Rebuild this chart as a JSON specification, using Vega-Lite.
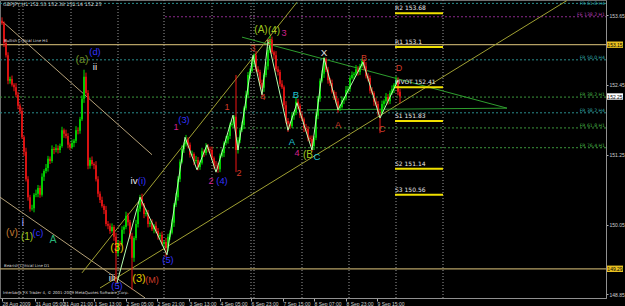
{
"$schema":"https://vega.github.io/schema/vega-lite/v6.json",
"width":606,"height":298,
"autosize":"none",
"padding":{"left":0,"top":0,"right":19,"bottom":8},
"background":"#000000",
"config":{"view":{"stroke":"#707070","strokeWidth":1}},
"resolve":{"scale":{"color":"independent","size":"independent","strokeWidth":"independent"}},
"datasets":{
"vgrid":[{"i":9.5},{"i":11.5},{"i":35.5},{"i":59},{"i":82},{"i":106},{"i":125.5},{"i":127},{"i":151},{"i":174.5},{"i":198},{"i":221.5}],
"levels":[
{"kind":"frh4","p":153.85,"x1":0,"x2":303,"t":"FR 61.8 H4"},
{"kind":"fe","p":153.62,"x1":82.5,"x2":303,"t":"FE 138.2 H1"},
{"kind":"frh4","p":152.88,"x1":0,"x2":303,"t":"FR 50.0 H4"},
{"kind":"frh1","p":152.24,"x1":0,"x2":303,"t":"FR 38.2 H1"},
{"kind":"frh4","p":151.97,"x1":0,"x2":303,"t":"FR 38.2 H4"},
{"kind":"frh1","p":151.71,"x1":106,"x2":303,"t":"FR 61.8 H1"},
{"kind":"frh1","p":151.37,"x1":106,"x2":303,"t":"FR 76.4 H1"},
{"kind":"crit","p":153.14,"x1":0,"x2":303,"t":""},
{"kind":"crit","p":149.29,"x1":0,"x2":303,"t":""}
],
"trend":[
{"kind":"tan","x1":1.5,"p1":153.53,"x2":76,"p2":151.25},
{"kind":"tan","x1":0,"p1":150.52,"x2":72.5,"p2":148.79},
{"kind":"olive","x1":41,"p1":149.22,"x2":148.5,"p2":153.87},
{"kind":"olive","x1":50,"p1":148.96,"x2":283.5,"p2":153.9},
{"kind":"green","x1":121,"p1":153.27,"x2":253.5,"p2":152.05},
{"kind":"green","x1":153.5,"p1":152.02,"x2":253.5,"p2":152.05}
],
"zigzag":[
{"n":1,"i":58.5,"p":149.05},{"n":2,"i":70,"p":150.52},{"n":3,"i":83.5,"p":149.53},{"n":4,"i":92.5,"p":151.55},{"n":5,"i":98.5,"p":150.99},{"n":6,"i":103.5,"p":151.42},{"n":7,"i":108,"p":150.95},{"n":8,"i":116.5,"p":151.93},{"n":9,"i":119,"p":151.33},{"n":10,"i":126.5,"p":152.96},{"n":11,"i":131,"p":152.28},{"n":12,"i":134,"p":153.22},{"n":13,"i":144,"p":151.67},{"n":14,"i":148.5,"p":152.14},{"n":15,"i":156,"p":151.33},{"n":16,"i":162,"p":152.91},{"n":17,"i":169,"p":152.02},{"n":18,"i":181.5,"p":152.84},{"n":19,"i":190,"p":151.88},{"n":20,"i":199,"p":152.53}
],
"pivots":[
{"t":"R2 153.68","p":153.68,"x1":197.5,"x2":221.5},
{"t":"R1 153.1","p":153.10,"x1":197.5,"x2":221.5},
{"t":"PIVOT 152.41","p":152.41,"x1":197.5,"x2":221.5},
{"t":"S1 151.83","p":151.83,"x1":197.5,"x2":221.5},
{"t":"S2 151.14","p":151.01,"x1":197.5,"x2":221.5},
{"t":"S3 150.56","p":150.56,"x1":197.5,"x2":221.5}
],
"notes":[
{"t":"GBPJPY,H1  152.33 152.38 152.14 152.25","i":1.5,"p":153.82,"k":"big"},
{"t":"Bullish Critical Line H4","i":2,"p":153.20,"k":"small"},
{"t":"Bearish Critical Line D1","i":2,"p":149.34,"k":"small"},
{"t":"Interbank FX Trader 4, © 2001-2009 MetaQuotes Software Corp.","i":1.5,"p":148.87,"k":"small"}
],
"waves":[
{"t":"(v)","i":6,"p":149.90,"k":"orange"},
{"t":"i","i":11.5,"p":150.08,"k":"lav"},
{"t":"(1)","i":13.5,"p":149.84,"k":"yg"},
{"t":"(c)","i":19,"p":149.90,"k":"blue"},
{"t":"A","i":26.5,"p":149.78,"k":"sea"},
{"t":"(a)","i":41,"p":152.88,"k":"olive"},
{"t":"(d)","i":47.5,"p":153.01,"k":"blue"},
{"t":"ii","i":47.5,"p":152.76,"k":"white"},
{"t":"iii","i":56,"p":149.13,"k":"white"},
{"t":"(5)","i":58.5,"p":149.00,"k":"blue"},
{"t":"(3)","i":58.5,"p":149.65,"k":"yellow"},
{"t":"iv","i":67,"p":150.80,"k":"white"},
{"t":"(i)","i":71,"p":150.80,"k":"blue"},
{"t":"(3)","i":69.5,"p":149.11,"k":"yellow"},
{"t":"(M)","i":76,"p":149.10,"k":"red"},
{"t":"(5)","i":84,"p":149.44,"k":"blue"},
{"t":"1","i":88,"p":151.73,"k":"mag"},
{"t":"(3)","i":92,"p":151.84,"k":"blue"},
{"t":"2","i":105.5,"p":150.80,"k":"mag"},
{"t":"(4)","i":111,"p":150.80,"k":"blue"},
{"t":"1","i":113.5,"p":152.07,"k":"red"},
{"t":"2","i":119.5,"p":150.94,"k":"red"},
{"t":"3","i":126.5,"p":153.08,"k":"red"},
{"t":"4","i":131.5,"p":152.24,"k":"red"},
{"t":"5","i":135,"p":153.19,"k":"red"},
{"t":"(A)","i":130.5,"p":153.40,"k":"yg"},
{"t":"(4)","i":137,"p":153.38,"k":"yg"},
{"t":"3","i":142,"p":153.34,"k":"mag"},
{"t":"A","i":146,"p":151.47,"k":"cyan"},
{"t":"B","i":148,"p":152.28,"k":"cyan"},
{"t":"4","i":148.5,"p":151.28,"k":"mag"},
{"t":"(B","i":154,"p":151.25,"k":"yg"},
{"t":"C","i":158.5,"p":151.21,"k":"cyan"},
{"t":"X","i":162,"p":152.99,"k":"white"},
{"t":"A","i":169,"p":151.76,"k":"red"},
{"t":"B","i":182,"p":152.91,"k":"red"},
{"t":"C","i":191,"p":151.69,"k":"red"},
{"t":"D","i":199.5,"p":152.74,"k":"red"}
],
"marks":[
{"t":"153.15","p":153.14,"k":"gold"},
{"t":"152.25","p":152.25,"k":"white"},
{"t":"149.29","p":149.29,"k":"gold"}
],
"candles":[
{"i":1,"o":153.55,"h":153.61,"l":153.48,"c":153.51},
{"i":2,"o":153.51,"h":153.54,"l":153.10,"c":153.17},
{"i":3,"o":153.17,"h":153.24,"l":152.92,"c":152.96},
{"i":4,"o":152.96,"h":153.01,"l":152.46,"c":152.52},
{"i":5,"o":152.52,"h":152.59,"l":152.47,"c":152.55},
{"i":6,"o":152.55,"h":152.61,"l":152.42,"c":152.45},
{"i":7,"o":152.45,"h":152.48,"l":152.34,"c":152.41},
{"i":8,"o":152.41,"h":152.48,"l":152.24,"c":152.28},
{"i":9,"o":152.28,"h":152.33,"l":152.03,"c":152.09},
{"i":10,"o":152.09,"h":152.13,"l":151.95,"c":152.00},
{"i":11,"o":152.00,"h":152.06,"l":151.52,"c":151.55},
{"i":12,"o":151.55,"h":151.58,"l":151.23,"c":151.30},
{"i":13,"o":151.30,"h":151.37,"l":150.79,"c":150.83},
{"i":14,"o":150.83,"h":150.88,"l":150.46,"c":150.52},
{"i":15,"o":150.52,"h":150.56,"l":150.27,"c":150.32},
{"i":16,"o":150.32,"h":150.39,"l":150.29,"c":150.33},
{"i":17,"o":150.33,"h":150.59,"l":150.26,"c":150.56},
{"i":18,"o":150.56,"h":150.65,"l":150.52,"c":150.58},
{"i":19,"o":150.58,"h":150.73,"l":150.52,"c":150.68},
{"i":20,"o":150.68,"h":150.72,"l":150.51,"c":150.56},
{"i":21,"o":150.56,"h":150.93,"l":150.53,"c":150.87},
{"i":22,"o":150.87,"h":151.00,"l":150.80,"c":150.97},
{"i":23,"o":150.97,"h":151.09,"l":150.93,"c":151.02},
{"i":24,"o":151.02,"h":151.23,"l":150.96,"c":151.18},
{"i":25,"o":151.18,"h":151.22,"l":151.09,"c":151.14},
{"i":26,"o":151.14,"h":151.41,"l":151.11,"c":151.35},
{"i":27,"o":151.35,"h":151.38,"l":151.26,"c":151.33},
{"i":28,"o":151.33,"h":151.43,"l":151.29,"c":151.36},
{"i":29,"o":151.36,"h":151.41,"l":151.27,"c":151.33},
{"i":30,"o":151.33,"h":151.44,"l":151.28,"c":151.40},
{"i":31,"o":151.40,"h":151.73,"l":151.37,"c":151.67},
{"i":32,"o":151.67,"h":151.70,"l":151.54,"c":151.61},
{"i":33,"o":151.61,"h":151.68,"l":151.53,"c":151.57},
{"i":34,"o":151.57,"h":151.62,"l":151.36,"c":151.42},
{"i":35,"o":151.42,"h":151.46,"l":151.33,"c":151.38},
{"i":36,"o":151.38,"h":151.51,"l":151.35,"c":151.45},
{"i":37,"o":151.45,"h":151.52,"l":151.38,"c":151.49},
{"i":38,"o":151.49,"h":151.74,"l":151.45,"c":151.67},
{"i":39,"o":151.67,"h":151.72,"l":151.60,"c":151.66},
{"i":40,"o":151.66,"h":151.90,"l":151.61,"c":151.86},
{"i":41,"o":151.86,"h":152.27,"l":151.83,"c":152.21},
{"i":42,"o":152.21,"h":152.71,"l":152.14,"c":152.59},
{"i":43,"o":152.59,"h":152.66,"l":152.27,"c":152.31},
{"i":44,"o":152.31,"h":152.36,"l":151.00,"c":151.06},
{"i":45,"o":151.06,"h":151.20,"l":151.01,"c":151.16},
{"i":46,"o":151.16,"h":151.22,"l":151.06,"c":151.09},
{"i":47,"o":151.09,"h":151.12,"l":151.00,"c":151.07},
{"i":48,"o":151.07,"h":151.14,"l":150.79,"c":150.83},
{"i":49,"o":150.83,"h":150.88,"l":150.52,"c":150.58},
{"i":50,"o":150.58,"h":150.62,"l":150.42,"c":150.47},
{"i":51,"o":150.47,"h":150.53,"l":150.34,"c":150.37},
{"i":52,"o":150.37,"h":150.40,"l":150.23,"c":150.30},
{"i":53,"o":150.30,"h":150.37,"l":150.02,"c":150.06},
{"i":54,"o":150.06,"h":150.11,"l":149.97,"c":150.03},
{"i":55,"o":150.03,"h":150.07,"l":149.89,"c":149.94},
{"i":56,"o":149.94,"h":150.07,"l":149.91,"c":150.01},
{"i":57,"o":150.01,"h":150.04,"l":149.77,"c":149.84},
{"i":58,"o":149.84,"h":149.91,"l":149.05,"c":149.56},
{"i":59,"o":149.56,"h":149.78,"l":149.50,"c":149.73},
{"i":60,"o":149.73,"h":149.77,"l":149.67,"c":149.72},
{"i":61,"o":149.72,"h":150.02,"l":149.69,"c":149.96},
{"i":62,"o":149.96,"h":150.04,"l":149.89,"c":150.01},
{"i":63,"o":150.01,"h":150.27,"l":149.97,"c":150.20},
{"i":64,"o":150.20,"h":150.25,"l":150.03,"c":150.09},
{"i":65,"o":150.09,"h":150.13,"l":149.80,"c":149.85},
{"i":66,"o":149.85,"h":149.91,"l":148.93,"c":149.48},
{"i":67,"o":149.48,"h":149.85,"l":149.41,"c":149.82},
{"i":68,"o":149.82,"h":150.13,"l":149.78,"c":150.06},
{"i":69,"o":150.06,"h":150.37,"l":150.00,"c":150.32},
{"i":70,"o":150.32,"h":150.56,"l":150.27,"c":150.52},
{"i":71,"o":150.52,"h":150.58,"l":150.36,"c":150.39},
{"i":72,"o":150.39,"h":150.42,"l":150.16,"c":150.23},
{"i":73,"o":150.23,"h":150.32,"l":150.19,"c":150.25},
{"i":74,"o":150.25,"h":150.30,"l":150.00,"c":150.06},
{"i":75,"o":150.06,"h":150.12,"l":150.01,"c":150.08},
{"i":76,"o":150.08,"h":150.14,"l":149.94,"c":149.97},
{"i":77,"o":149.97,"h":150.06,"l":149.90,"c":150.03},
{"i":78,"o":150.03,"h":150.10,"l":149.90,"c":149.94},
{"i":79,"o":149.94,"h":149.99,"l":149.79,"c":149.85},
{"i":80,"o":149.85,"h":149.91,"l":149.80,"c":149.87},
{"i":81,"o":149.87,"h":149.93,"l":149.69,"c":149.72},
{"i":82,"o":149.72,"h":149.78,"l":149.65,"c":149.75},
{"i":83,"o":149.75,"h":149.82,"l":149.49,"c":149.65},
{"i":84,"o":149.65,"h":149.89,"l":149.59,"c":149.84},
{"i":85,"o":149.84,"h":149.95,"l":149.79,"c":149.91},
{"i":86,"o":149.91,"h":150.14,"l":149.88,"c":150.08},
{"i":87,"o":150.08,"h":150.42,"l":150.01,"c":150.39},
{"i":88,"o":150.39,"h":150.59,"l":150.35,"c":150.52},
{"i":89,"o":150.52,"h":150.88,"l":150.46,"c":150.83},
{"i":90,"o":150.83,"h":151.17,"l":150.78,"c":151.13},
{"i":91,"o":151.13,"h":151.41,"l":151.10,"c":151.35},
{"i":92,"o":151.35,"h":151.46,"l":151.28,"c":151.43},
{"i":93,"o":151.43,"h":151.59,"l":151.39,"c":151.50},
{"i":94,"o":151.50,"h":151.55,"l":151.36,"c":151.42},
{"i":95,"o":151.42,"h":151.46,"l":151.20,"c":151.25},
{"i":96,"o":151.25,"h":151.32,"l":151.22,"c":151.26},
{"i":97,"o":151.26,"h":151.29,"l":151.07,"c":151.14},
{"i":98,"o":151.14,"h":151.23,"l":151.10,"c":151.16},
{"i":99,"o":151.16,"h":151.21,"l":150.98,"c":151.04},
{"i":100,"o":151.04,"h":151.15,"l":150.99,"c":151.11},
{"i":101,"o":151.11,"h":151.37,"l":151.08,"c":151.31},
{"i":102,"o":151.31,"h":151.34,"l":151.21,"c":151.28},
{"i":103,"o":151.28,"h":151.45,"l":151.24,"c":151.38},
{"i":104,"o":151.38,"h":151.43,"l":151.29,"c":151.35},
{"i":105,"o":151.35,"h":151.39,"l":151.28,"c":151.33},
{"i":106,"o":151.33,"h":151.39,"l":151.16,"c":151.19},
{"i":107,"o":151.19,"h":151.22,"l":151.00,"c":151.07},
{"i":108,"o":151.07,"h":151.14,"l":151.02,"c":151.06},
{"i":109,"o":151.06,"h":151.11,"l":150.94,"c":151.00},
{"i":110,"o":151.00,"h":151.27,"l":150.95,"c":151.23},
{"i":111,"o":151.23,"h":151.34,"l":151.20,"c":151.28},
{"i":112,"o":151.28,"h":151.48,"l":151.21,"c":151.45},
{"i":113,"o":151.45,"h":151.57,"l":151.41,"c":151.50},
{"i":114,"o":151.50,"h":151.62,"l":151.44,"c":151.57},
{"i":115,"o":151.57,"h":151.80,"l":151.52,"c":151.76},
{"i":116,"o":151.76,"h":151.84,"l":151.73,"c":151.78},
{"i":117,"o":151.78,"h":151.93,"l":151.71,"c":151.90},
{"i":118,"o":151.90,"h":152.62,"l":150.95,"c":151.33},
{"i":119,"o":151.33,"h":151.55,"l":151.27,"c":151.50},
{"i":120,"o":151.50,"h":151.71,"l":151.45,"c":151.67},
{"i":121,"o":151.67,"h":151.82,"l":151.64,"c":151.76},
{"i":122,"o":151.76,"h":152.08,"l":151.69,"c":152.05},
{"i":123,"o":152.05,"h":152.35,"l":152.01,"c":152.28},
{"i":124,"o":152.28,"h":152.67,"l":152.22,"c":152.62},
{"i":125,"o":152.62,"h":152.73,"l":152.57,"c":152.69},
{"i":126,"o":152.69,"h":152.90,"l":152.66,"c":152.84},
{"i":127,"o":152.84,"h":152.99,"l":152.77,"c":152.96},
{"i":128,"o":152.96,"h":153.03,"l":152.68,"c":152.72},
{"i":129,"o":152.72,"h":152.77,"l":152.61,"c":152.67},
{"i":130,"o":152.67,"h":152.71,"l":152.43,"c":152.48},
{"i":131,"o":152.48,"h":152.54,"l":152.24,"c":152.40},
{"i":132,"o":152.40,"h":152.65,"l":152.33,"c":152.62},
{"i":133,"o":152.62,"h":152.84,"l":152.58,"c":152.77},
{"i":134,"o":152.77,"h":153.10,"l":152.71,"c":153.05},
{"i":135,"o":153.05,"h":153.29,"l":153.00,"c":153.22},
{"i":136,"o":153.22,"h":153.28,"l":152.98,"c":153.01},
{"i":137,"o":153.01,"h":153.04,"l":152.89,"c":152.96},
{"i":138,"o":152.96,"h":153.03,"l":152.68,"c":152.72},
{"i":139,"o":152.72,"h":152.77,"l":152.61,"c":152.67},
{"i":140,"o":152.67,"h":152.71,"l":152.42,"c":152.47},
{"i":141,"o":152.47,"h":152.53,"l":152.38,"c":152.41},
{"i":142,"o":152.41,"h":152.44,"l":152.03,"c":152.10},
{"i":143,"o":152.10,"h":152.17,"l":151.79,"c":151.83},
{"i":144,"o":151.83,"h":151.88,"l":151.64,"c":151.78},
{"i":145,"o":151.78,"h":151.82,"l":151.69,"c":151.74},
{"i":146,"o":151.74,"h":151.98,"l":151.71,"c":151.92},
{"i":147,"o":151.92,"h":152.00,"l":151.85,"c":151.97},
{"i":148,"o":151.97,"h":152.23,"l":151.93,"c":152.16},
{"i":149,"o":152.16,"h":152.21,"l":152.03,"c":152.09},
{"i":150,"o":152.09,"h":152.13,"l":151.88,"c":151.93},
{"i":151,"o":151.93,"h":151.99,"l":151.83,"c":151.86},
{"i":152,"o":151.86,"h":151.89,"l":151.64,"c":151.71},
{"i":153,"o":151.71,"h":151.78,"l":151.65,"c":151.69},
{"i":154,"o":151.69,"h":151.74,"l":151.48,"c":151.54},
{"i":155,"o":151.54,"h":151.58,"l":151.47,"c":151.52},
{"i":156,"o":151.52,"h":151.58,"l":151.30,"c":151.40},
{"i":157,"o":151.40,"h":151.57,"l":151.33,"c":151.54},
{"i":158,"o":151.54,"h":151.99,"l":151.50,"c":151.92},
{"i":159,"o":151.92,"h":152.26,"l":151.86,"c":152.21},
{"i":160,"o":152.21,"h":152.56,"l":152.16,"c":152.52},
{"i":161,"o":152.52,"h":152.70,"l":152.49,"c":152.64},
{"i":162,"o":152.64,"h":152.93,"l":152.57,"c":152.89},
{"i":163,"o":152.89,"h":152.92,"l":152.67,"c":152.71},
{"i":164,"o":152.71,"h":152.76,"l":152.47,"c":152.53},
{"i":165,"o":152.53,"h":152.57,"l":152.43,"c":152.48},
{"i":166,"o":152.48,"h":152.54,"l":152.30,"c":152.33},
{"i":167,"o":152.33,"h":152.36,"l":152.19,"c":152.26},
{"i":168,"o":152.26,"h":152.33,"l":152.13,"c":152.17},
{"i":169,"o":152.17,"h":152.22,"l":151.97,"c":152.05},
{"i":170,"o":152.05,"h":152.11,"l":152.00,"c":152.07},
{"i":171,"o":152.07,"h":152.25,"l":152.04,"c":152.19},
{"i":172,"o":152.19,"h":152.25,"l":152.12,"c":152.22},
{"i":173,"o":152.22,"h":152.43,"l":152.18,"c":152.36},
{"i":174,"o":152.36,"h":152.43,"l":152.30,"c":152.38},
{"i":175,"o":152.38,"h":152.61,"l":152.33,"c":152.57},
{"i":176,"o":152.57,"h":152.68,"l":152.54,"c":152.62},
{"i":177,"o":152.62,"h":152.67,"l":152.55,"c":152.64},
{"i":178,"o":152.64,"h":152.79,"l":152.60,"c":152.72},
{"i":179,"o":152.72,"h":152.77,"l":152.61,"c":152.67},
{"i":180,"o":152.67,"h":152.81,"l":152.62,"c":152.77},
{"i":181,"o":152.77,"h":152.90,"l":152.74,"c":152.86},
{"i":182,"o":152.86,"h":152.89,"l":152.70,"c":152.77},
{"i":183,"o":152.77,"h":152.84,"l":152.56,"c":152.60},
{"i":184,"o":152.60,"h":152.65,"l":152.51,"c":152.57},
{"i":185,"o":152.57,"h":152.61,"l":152.30,"c":152.35},
{"i":186,"o":152.35,"h":152.41,"l":152.28,"c":152.31},
{"i":187,"o":152.31,"h":152.34,"l":152.09,"c":152.16},
{"i":188,"o":152.16,"h":152.23,"l":152.08,"c":152.12},
{"i":189,"o":152.12,"h":152.17,"l":151.92,"c":151.98},
{"i":190,"o":151.98,"h":152.02,"l":151.62,"c":151.97},
{"i":191,"o":151.97,"h":152.18,"l":151.94,"c":152.12},
{"i":192,"o":152.12,"h":152.20,"l":152.05,"c":152.17},
{"i":193,"o":152.17,"h":152.31,"l":152.13,"c":152.24},
{"i":194,"o":152.24,"h":152.29,"l":152.11,"c":152.17},
{"i":195,"o":152.17,"h":152.35,"l":152.12,"c":152.31},
{"i":196,"o":152.31,"h":152.44,"l":152.28,"c":152.38},
{"i":197,"o":152.38,"h":152.48,"l":152.31,"c":152.45},
{"i":198,"o":152.45,"h":152.60,"l":152.41,"c":152.53},
{"i":199,"o":152.53,"h":152.58,"l":152.27,"c":152.33},
{"i":200,"o":152.33,"h":152.38,"l":152.14,"c":152.25}
]
},
"layer":[
{"data":{"name":"levels"},"transform":[{"filter":"datum.kind=='crit'"}],"mark":{"type":"rule","stroke":"#b4a064","strokeWidth":1.2},
 "encoding":{"x":{"field":"x1","type":"quantitative","scale":{"domain":[0,303]},
   "axis":{"orient":"bottom","values":[1,17.5,31.5,47,63,78.5,94.5,110,125.5,141.5,157,173,188.5],
    "labelExpr":"['28 Aug 2009','31 Aug 05:00','31 Aug 21:00','1 Sep 13:00','2 Sep 05:00','2 Sep 21:00','3 Sep 13:00','4 Sep 05:00','6 Sep 23:00','7 Sep 15:00','8 Sep 07:00','8 Sep 23:00','9 Sep 15:00'][indexof([1,17.5,31.5,47,63,78.5,94.5,110,125.5,141.5,157,173,188.5], datum.value)]",
    "labelAlign":"left","labelBaseline":"top","labelColor":"#d0d0d0","labelFontSize":5,"labelFont":"Liberation Sans","labelPadding":0,"labelFlush":false,"labelOverlap":false,"labelBound":false,
    "tickColor":"#b0b0b0","tickSize":3,"domainColor":"#909090","grid":false,"title":null,"zindex":2}},
  "x2":{"field":"x2"},
  "y":{"field":"p","type":"quantitative","scale":{"domain":[148.788,153.908],"zero":false,"nice":false},
   "axis":{"orient":"right","values":[148.85,149.15,149.45,149.75,150.05,150.35,150.65,150.95,151.25,151.55,151.85,152.15,152.45,152.75,153.05,153.35,153.65],
    "format":".2f","labelColor":"#d0d0d0","labelFontSize":5,"labelFont":"Liberation Sans","labelPadding":1,"tickColor":"#b0b0b0","tickSize":2,"domainColor":"#909090","grid":false,"title":null,"labelOverlap":false,"labelBound":false,"zindex":2}}}},
{"data":{"name":"vgrid"},"mark":{"type":"rule","stroke":"#9a9a9a","strokeDash":[1,2],"strokeWidth":1},
 "encoding":{"x":{"field":"i","type":"quantitative","scale":{"domain":[0,303]},"axis":{"title":null}}}},
{"data":{"name":"levels"},"transform":[{"filter":"datum.kind=='frh4'"}],"mark":{"type":"rule","stroke":"#2a8c8c","strokeDash":[2,2],"strokeWidth":1},
 "encoding":{"x":{"field":"x1","type":"quantitative","scale":{"domain":[0,303]},"axis":{"title":null}},"x2":{"field":"x2"},"y":{"field":"p","type":"quantitative","scale":{"domain":[148.788,153.908],"zero":false,"nice":false},"axis":{"title":null}}}},
{"data":{"name":"levels"},"transform":[{"filter":"datum.kind=='frh1'"}],"mark":{"type":"rule","stroke":"#3c963c","strokeDash":[2,2],"strokeWidth":1},
 "encoding":{"x":{"field":"x1","type":"quantitative","scale":{"domain":[0,303]},"axis":{"title":null}},"x2":{"field":"x2"},"y":{"field":"p","type":"quantitative","scale":{"domain":[148.788,153.908],"zero":false,"nice":false},"axis":{"title":null}}}},
{"data":{"name":"levels"},"transform":[{"filter":"datum.kind=='fe'"}],"mark":{"type":"rule","stroke":"#8c2a8c","strokeDash":[2,2],"strokeWidth":1},
 "encoding":{"x":{"field":"x1","type":"quantitative","scale":{"domain":[0,303]},"axis":{"title":null}},"x2":{"field":"x2"},"y":{"field":"p","type":"quantitative","scale":{"domain":[148.788,153.908],"zero":false,"nice":false},"axis":{"title":null}}}},
{"data":{"name":"levels"},"transform":[{"filter":"datum.t!='' && datum.p < 153.8"}],"mark":{"type":"text","align":"right","baseline":"middle","dy":-2,"fontSize":4.6,"font":"DejaVu Sans"},
 "encoding":{"x":{"datum":302.5,"type":"quantitative","scale":{"domain":[0,303]},"axis":{"title":null}},"y":{"field":"p","type":"quantitative","scale":{"domain":[148.788,153.908],"zero":false,"nice":false},"axis":{"title":null}},"text":{"field":"t"},
  "color":{"field":"kind","type":"nominal","scale":{"domain":["frh4","frh1","fe"],"range":["#30a8a8","#46b446","#b43cb4"]},"legend":null}}},
{"data":{"name":"levels"},"transform":[{"filter":"datum.p >= 153.8"}],"mark":{"type":"text","align":"right","baseline":"middle","dy":1,"fontSize":4.6,"font":"DejaVu Sans","color":"#30a8a8"},
 "encoding":{"x":{"datum":302.5,"type":"quantitative","scale":{"domain":[0,303]},"axis":{"title":null}},"y":{"field":"p","type":"quantitative","scale":{"domain":[148.788,153.908],"zero":false,"nice":false},"axis":{"title":null}},"text":{"field":"t"}}},
{"data":{"name":"trend"},"mark":{"type":"rule","strokeWidth":1},
 "encoding":{"x":{"field":"x1","type":"quantitative","scale":{"domain":[0,303]},"axis":{"title":null}},"x2":{"field":"x2"},"y":{"field":"p1","type":"quantitative","scale":{"domain":[148.788,153.908],"zero":false,"nice":false},"axis":{"title":null}},"y2":{"field":"p2"},
  "color":{"field":"kind","type":"nominal","scale":{"domain":["tan","olive","green"],"range":["#b4a078","#a0a032","#2e9e2e"]},"legend":null},
  "strokeWidth":{"field":"kind","type":"nominal","scale":{"domain":["tan","olive","green"],"range":[1,1,1.6]},"legend":null}}},
{"data":{"name":"candles"},"mark":{"type":"rule","strokeWidth":1},
 "encoding":{"x":{"field":"i","type":"quantitative","scale":{"domain":[0,303]},"axis":{"title":null}},
  "y":{"field":"l","type":"quantitative","scale":{"domain":[148.788,153.908],"zero":false,"nice":false},"axis":{"title":null}},
  "y2":{"field":"h"},
  "color":{"condition":{"test":"datum.c >= datum.o","value":"#00e000"},"value":"#f01414"}}},
{"data":{"name":"candles"},"mark":{"type":"rule","strokeWidth":1.6},
 "encoding":{"x":{"field":"i","type":"quantitative","scale":{"domain":[0,303]},"axis":{"title":null}},
  "y":{"field":"o","type":"quantitative","scale":{"domain":[148.788,153.908],"zero":false,"nice":false},"axis":{"title":null}},
  "y2":{"field":"c"},
  "color":{"condition":{"test":"datum.c >= datum.o","value":"#00e000"},"value":"#f01414"}}},
{"data":{"name":"zigzag"},"mark":{"type":"line","stroke":"#b8ffb0","strokeWidth":1},
 "encoding":{"x":{"field":"i","type":"quantitative","scale":{"domain":[0,303]},"axis":{"title":null}},"y":{"field":"p","type":"quantitative","scale":{"domain":[148.788,153.908],"zero":false,"nice":false},"axis":{"title":null}},"order":{"field":"n"}}},
{"data":{"name":"pivots"},"mark":{"type":"rule","stroke":"#f0e000","strokeWidth":2},
 "encoding":{"x":{"field":"x1","type":"quantitative","scale":{"domain":[0,303]},"axis":{"title":null}},"x2":{"field":"x2"},"y":{"field":"p","type":"quantitative","scale":{"domain":[148.788,153.908],"zero":false,"nice":false},"axis":{"title":null}}}},
{"data":{"name":"pivots"},"mark":{"type":"text","align":"left","baseline":"middle","dy":-5,"fontSize":6,"font":"DejaVu Sans","color":"#e8e8e8"},
 "encoding":{"x":{"field":"x1","type":"quantitative","scale":{"domain":[0,303]},"axis":{"title":null}},"y":{"field":"p","type":"quantitative","scale":{"domain":[148.788,153.908],"zero":false,"nice":false},"axis":{"title":null}},"text":{"field":"t"}}},
{"data":{"name":"notes"},"mark":{"type":"text","align":"left","baseline":"middle","font":"DejaVu Sans","color":"#d8d8d8"},
 "encoding":{"x":{"field":"i","type":"quantitative","scale":{"domain":[0,303]},"axis":{"title":null}},"y":{"field":"p","type":"quantitative","scale":{"domain":[148.788,153.908],"zero":false,"nice":false},"axis":{"title":null}},"text":{"field":"t"},
  "size":{"field":"k","type":"nominal","scale":{"domain":["big","small"],"range":[4.8,3.9]},"legend":null}}},
{"data":{"name":"waves"},"mark":{"type":"text","align":"center","baseline":"middle","font":"Liberation Sans"},
 "encoding":{"x":{"field":"i","type":"quantitative","scale":{"domain":[0,303]},"axis":{"title":null}},"y":{"field":"p","type":"quantitative","scale":{"domain":[148.788,153.908],"zero":false,"nice":false},"axis":{"title":null}},"text":{"field":"t"},
  "color":{"field":"k","type":"nominal","scale":{"domain":["red","mag","blue","cyan","white","yg","orange","lav","sea","olive","yellow"],"range":["#d23c28","#d0208c","#3232ff","#20c0d0","#e6e6e6","#a0c81e","#c07830","#a0a0ff","#28b478","#6b8e23","#e0c800"]},"legend":null},
  "size":{"field":"k","type":"nominal","scale":{"domain":["red","mag","blue","cyan","white","yg","orange","lav","sea","olive","yellow"],"range":[9,11,7,10,9,10,9,9,11,9,10]},"legend":null}}},
{"data":{"name":"marks"},"mark":{"type":"point","filled":true,"opacity":1,"shape":"M-1,-0.4L1,-0.4L1,0.4L-1,0.4Z","size":256},
 "encoding":{"x":{"datum":307.5,"type":"quantitative","scale":{"domain":[0,303]},"axis":{"title":null}},"y":{"field":"p","type":"quantitative","scale":{"domain":[148.788,153.908],"zero":false,"nice":false},"axis":{"title":null}},
  "color":{"field":"k","type":"nominal","scale":{"domain":["gold","white"],"range":["#e8c020","#ffffff"]},"legend":null}}},
{"data":{"name":"marks"},"mark":{"type":"text","align":"center","baseline":"middle","fontSize":5,"font":"Liberation Sans","color":"#000000"},
 "encoding":{"x":{"datum":307.5,"type":"quantitative","scale":{"domain":[0,303]},"axis":{"title":null}},"y":{"field":"p","type":"quantitative","scale":{"domain":[148.788,153.908],"zero":false,"nice":false},"axis":{"title":null}},"text":{"field":"t"}}}
]
}
